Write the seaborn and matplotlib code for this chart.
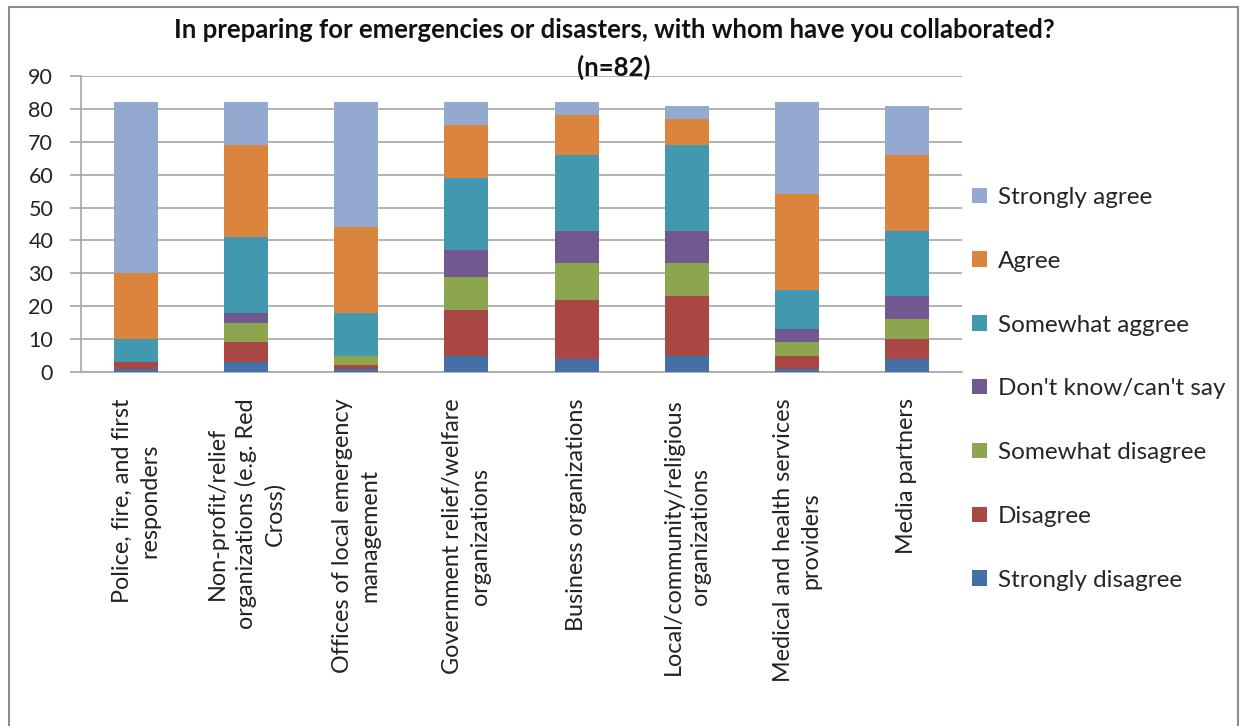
import matplotlib
matplotlib.use("Agg")
import matplotlib.pyplot as plt
from matplotlib.patches import Patch, Rectangle
import numpy as np
import pandas as pd
import seaborn as sns

categories = [
    "Police, fire, and first\nresponders",
    "Non-profit/relief\norganizations (e.g. Red\nCross)",
    "Offices of local emergency\nmanagement",
    "Government relief/welfare\norganizations",
    "Business organizations",
    "Local/community/religious\norganizations",
    "Medical and health services\nproviders",
    "Media partners",
]
# stacking order bottom -> top
series_names = ["Strongly disagree", "Disagree", "Somewhat disagree",
                "Don't know/can't say", "Somewhat aggree", "Agree", "Strongly agree"]
strongly_disagree = [1, 3, 1, 5, 4, 5, 1, 4]
disagree          = [2, 6, 1, 14, 18, 18, 4, 6]
somewhat_disagree = [0, 6, 3, 10, 11, 10, 4, 6]
dont_know         = [0, 3, 0, 8, 10, 10, 4, 7]
somewhat_agree    = [7, 23, 13, 22, 23, 26, 12, 20]
agree             = [20, 28, 26, 16, 12, 8, 29, 23]
strongly_agree    = [52, 13, 38, 7, 4, 4, 28, 15]
series_values = [strongly_disagree, disagree, somewhat_disagree, dont_know,
                 somewhat_agree, agree, strongly_agree]
colors = ["#4470A5", "#A94745", "#8BA64F", "#71588F", "#4298AF", "#DB843D", "#93A9CF"]
yticks = [0, 10, 20, 30, 40, 50, 60, 70, 80, 90]
title = "In preparing for emergencies or disasters, with whom have you collaborated?\n(n=82)"

sns.set_theme(style="white")
plt.rcParams["font.family"] = ["Lato", "DejaVu Sans"]

fig = plt.figure(figsize=(12.46, 7.26), dpi=100)
ax = fig.add_axes([81 / 1246, 1 - 372 / 726, (962 - 81) / 1246, (372 - 76) / 726])

cum = np.cumsum(np.array(series_values), axis=0)
order = list(range(len(series_names)))[::-1]
for i in order:
    df = pd.DataFrame({"cat": categories, "val": cum[i]})
    sns.barplot(data=df, x="cat", y="val", color=colors[i], width=0.4,
                saturation=1, ax=ax, zorder=3, edgecolor="none", linewidth=0)

ax.set_xlabel("")
ax.set_ylabel("")
ax.set_ylim(0, 90)
ax.set_xlim(-0.5, len(categories) - 0.5)
ax.set_yticks(yticks)
ax.set_yticklabels([str(v) for v in yticks], fontsize=15.5, color="#222222")
ax.yaxis.grid(True, color="#A6A6A6", linewidth=1.2, zorder=0)
ax.set_axisbelow(True)

ax.set_xticks(range(len(categories)))
ax.set_xticklabels(categories, rotation=90, fontsize=16.8, color="#222222",
                   ha="center", va="top", multialignment="center", linespacing=1.38)
ax.tick_params(axis="x", length=0, pad=19)
# category boundary ticks
ax.set_xticks(np.arange(len(categories) + 1) - 0.5, minor=True)
ax.tick_params(axis="x", which="minor", length=6, color="#A6A6A6", width=1.2, direction="out")
ax.tick_params(axis="y", length=8, color="#A6A6A6", width=1.2, direction="out", pad=12, left=True)

for s in ["top", "right"]:
    ax.spines[s].set_visible(False)
for s in ["left", "bottom"]:
    ax.spines[s].set_color("#A6A6A6")
    ax.spines[s].set_linewidth(1.2)

fig.text(614 / 1246, 1 - 49 / 726, title, ha="center", va="center", fontsize=18.5,
         fontweight="bold", linespacing=1.62, color="#111111")

handles = [Patch(facecolor=colors[i], edgecolor="none") for i in order]
labels = [series_names[i] for i in order]
fig.legend(handles, labels, loc="upper left", bbox_to_anchor=(972 / 1246, 1 - 187 / 726),
           frameon=False, fontsize=17.5, labelspacing=1.76, handlelength=0.6,
           handleheight=0.6, handletextpad=0.45, borderaxespad=0, borderpad=0)

fig.patches.append(Rectangle((9 / 1246, -0.02), (1238 - 9) / 1246, 1 - 7 / 726 + 0.02,
                             transform=fig.transFigure, fill=False,
                             edgecolor="#8C8C8C", linewidth=1.5))

fig.savefig("out.png", dpi=100)
